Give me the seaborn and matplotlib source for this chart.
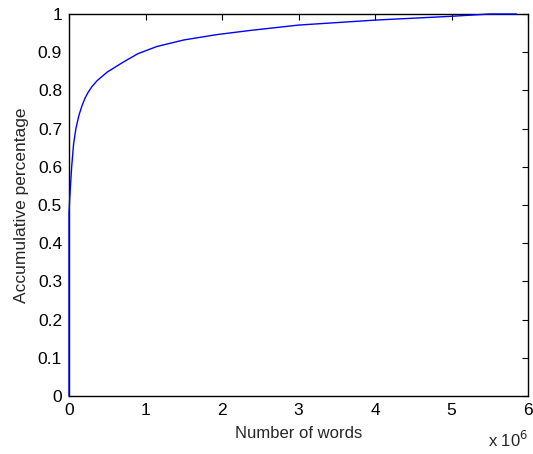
import matplotlib
matplotlib.use("Agg")
import matplotlib.pyplot as plt
import seaborn as sns
import pandas as pd

sns.set_style("white")
plt.rcParams['font.family'] = ['Liberation Sans', 'DejaVu Sans']

# cumulative share vs number of words (x in words)
words = [0, 0, 0.01e6, 0.035e6, 0.06e6, 0.09e6, 0.13e6, 0.17e6, 0.21e6, 0.25e6,
         0.3e6, 0.37e6, 0.5e6, 0.7e6, 0.9e6, 1.15e6, 1.5e6, 1.93e6, 2.37e6,
         3.0e6, 4.0e6, 5.0e6, 5.5e6, 5.85e6]
share = [0, 0.48, 0.52, 0.60, 0.66, 0.70, 0.735, 0.76, 0.78, 0.795,
         0.81, 0.826, 0.848, 0.873, 0.896, 0.915, 0.932, 0.946, 0.957,
         0.971, 0.984, 0.994, 1.0, 1.0]
xticks = [0, 1e6, 2e6, 3e6, 4e6, 5e6, 6e6]
xticklabels = ['0', '1', '2', '3', '4', '5', '6']
yticks = [0, 0.1, 0.2, 0.3, 0.4, 0.5, 0.6, 0.7, 0.8, 0.9, 1.0]
yticklabels = ['0', '0.1', '0.2', '0.3', '0.4', '0.5', '0.6', '0.7', '0.8', '0.9', '1']

df = pd.DataFrame({'words': words, 'share': share})

fig = plt.figure(figsize=(5.33, 4.54), dpi=100)
ax = fig.add_axes([69 / 533, 1 - 396 / 454, (528 - 69) / 533, (396 - 14) / 454])
sns.lineplot(data=df, x='words', y='share', ax=ax, color='#0000ff', linewidth=1.0,
             sort=False, estimator=None, zorder=5, clip_on=False)
ax.set_xlim(0, 6e6)
ax.set_ylim(0, 1)
ax.set_xticks(xticks)
ax.set_xticklabels(xticklabels)
ax.set_yticks(yticks)
ax.set_yticklabels(yticklabels)
for s in ax.spines.values():
    s.set_visible(True)
    s.set_color('black')
    s.set_linewidth(1.0)
ax.tick_params(direction='in', length=4, width=0.8, top=True, right=True,
               labelsize=12.5, colors='black', pad=5)
ax.set_xlabel('Number of words', fontsize=12, labelpad=6)
ax.set_ylabel('Accumulative percentage', fontsize=12.5, labelpad=6)
fig.text(488 / 533, 1 - 440 / 454, r'x 10$^6$', fontsize=12, ha='left', va='center')
fig.savefig('out.png', dpi=100)
